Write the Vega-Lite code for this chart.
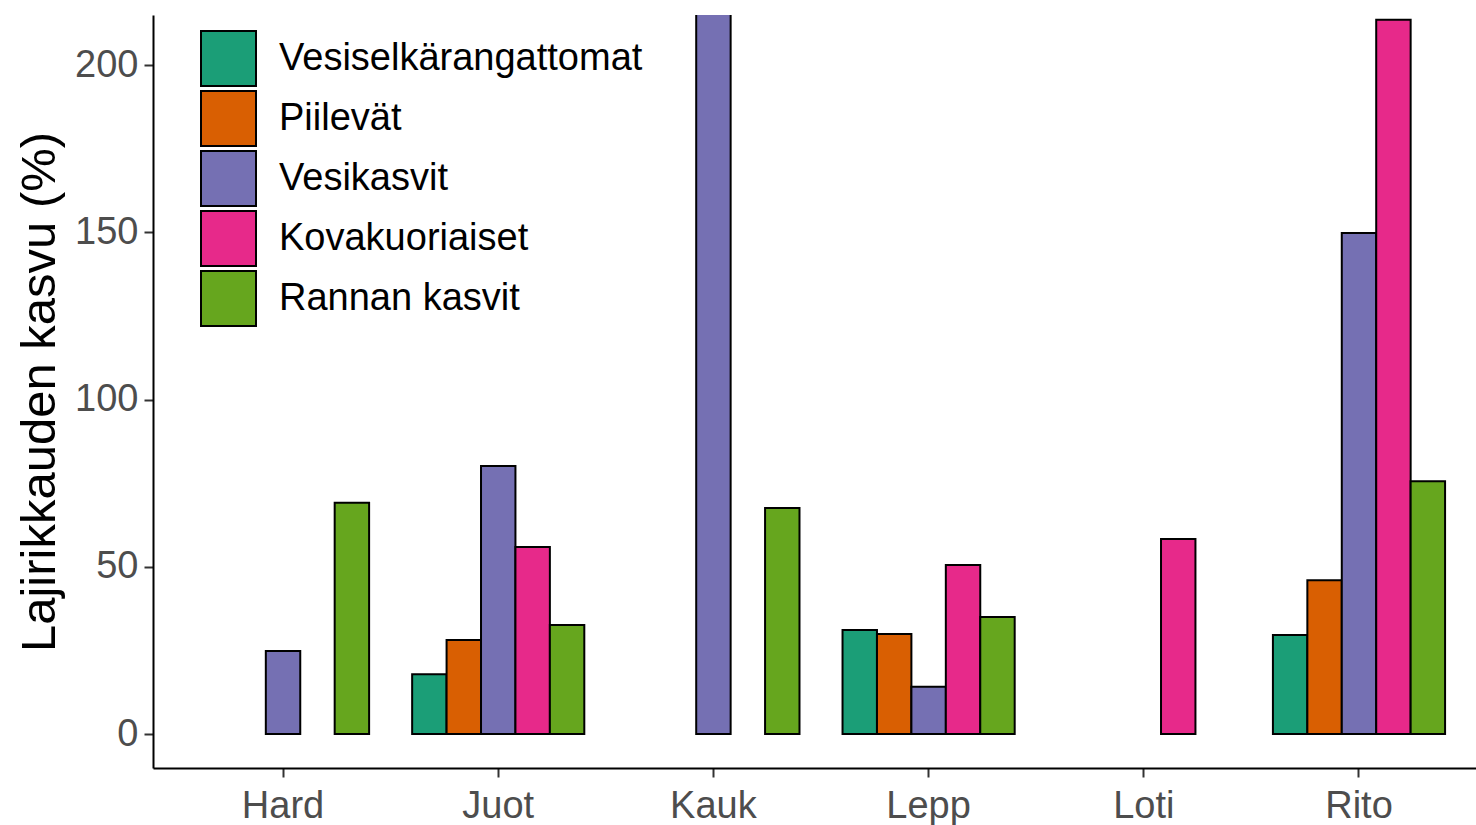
{
  "$schema": "https://vega.github.io/schema/vega-lite/v6.json",
  "autosize": "none",
  "width": 1323,
  "height": 753,
  "padding": {"left": 153, "top": 15, "right": 0, "bottom": 57},
  "background": "white",
  "config": {
    "view": {"stroke": null},
    "font": "Liberation Sans"
  },
  "data": {
    "values": [
      {"paikka": "Hard", "ryhma": "Vesikasvit", "kasvu": 24.8},
      {"paikka": "Hard", "ryhma": "Rannan kasvit", "kasvu": 69.1},
      {"paikka": "Juot", "ryhma": "Vesiselkärangattomat", "kasvu": 17.9},
      {"paikka": "Juot", "ryhma": "Piilevät", "kasvu": 28.1},
      {"paikka": "Juot", "ryhma": "Vesikasvit", "kasvu": 80.1},
      {"paikka": "Juot", "ryhma": "Kovakuoriaiset", "kasvu": 55.9},
      {"paikka": "Juot", "ryhma": "Rannan kasvit", "kasvu": 32.6},
      {"paikka": "Kauk", "ryhma": "Vesikasvit", "kasvu": 260},
      {"paikka": "Kauk", "ryhma": "Rannan kasvit", "kasvu": 67.6},
      {"paikka": "Lepp", "ryhma": "Vesiselkärangattomat", "kasvu": 31.1},
      {"paikka": "Lepp", "ryhma": "Piilevät", "kasvu": 29.9},
      {"paikka": "Lepp", "ryhma": "Vesikasvit", "kasvu": 14.1},
      {"paikka": "Lepp", "ryhma": "Kovakuoriaiset", "kasvu": 50.5},
      {"paikka": "Lepp", "ryhma": "Rannan kasvit", "kasvu": 35.0},
      {"paikka": "Loti", "ryhma": "Kovakuoriaiset", "kasvu": 58.3},
      {"paikka": "Rito", "ryhma": "Vesiselkärangattomat", "kasvu": 29.6},
      {"paikka": "Rito", "ryhma": "Piilevät", "kasvu": 46.0},
      {"paikka": "Rito", "ryhma": "Vesikasvit", "kasvu": 149.8},
      {"paikka": "Rito", "ryhma": "Kovakuoriaiset", "kasvu": 213.5},
      {"paikka": "Rito", "ryhma": "Rannan kasvit", "kasvu": 75.6}
    ]
  },
  "mark": {"type": "bar", "stroke": "black", "strokeWidth": 2, "clip": true},
  "encoding": {
    "x": {
      "field": "paikka",
      "type": "nominal",
      "sort": ["Hard", "Juot", "Kauk", "Lepp", "Loti", "Rito"],
      "scale": {"domain": ["Hard", "Juot", "Kauk", "Lepp", "Loti", "Rito"], "paddingInner": 0.2, "paddingOuter": 0.174, "align": 0.587},
      "axis": {
        "title": null,
        "labelAngle": 0,
        "labelFontSize": 38,
        "labelColor": "#4D4D4D",
        "labelPadding": 10,
        "tickSize": 9,
        "tickWidth": 2,
        "tickColor": "#333333",
        "domainColor": "black",
        "domainWidth": 2,
        "grid": false
      }
    },
    "xOffset": {
      "field": "ryhma",
      "type": "nominal",
      "scale": {"domain": ["Vesiselkärangattomat", "Piilevät", "Vesikasvit", "Kovakuoriaiset", "Rannan kasvit"], "paddingInner": 0, "paddingOuter": 0}
    },
    "y": {
      "field": "kasvu",
      "type": "quantitative",
      "scale": {"domain": [-10.16, 214.95], "nice": false, "zero": false},
      "axis": {
        "title": "Lajirikkauden kasvu (%)",
        "titleFontSize": 49,
        "titleFontWeight": "normal",
        "titleColor": "black",
        "titlePadding": 10,
        "values": [0, 50, 100, 150, 200],
        "labelFontSize": 38,
        "labelColor": "#4D4D4D",
        "labelPadding": 6,
        "tickSize": 9,
        "tickWidth": 2,
        "tickColor": "#333333",
        "domainColor": "black",
        "domainWidth": 2,
        "grid": false
      }
    },
    "color": {
      "field": "ryhma",
      "type": "nominal",
      "scale": {
        "domain": ["Vesiselkärangattomat", "Piilevät", "Vesikasvit", "Kovakuoriaiset", "Rannan kasvit"],
        "range": ["#1B9E77", "#D95F02", "#7570B3", "#E7298A", "#66A61E"]
      },
      "legend": {
        "title": null,
        "orient": "none",
        "legendX": 47,
        "legendY": 15,
        "symbolType": "square",
        "symbolSize": 3025,
        "symbolStrokeColor": "black",
        "symbolStrokeWidth": 2,
        "symbolOpacity": 1,
        "labelFontSize": 38,
        "labelColor": "black",
        "labelOffset": 22,
        "rowPadding": -3,
        "labelLimit": 600
      }
    }
  }
}
